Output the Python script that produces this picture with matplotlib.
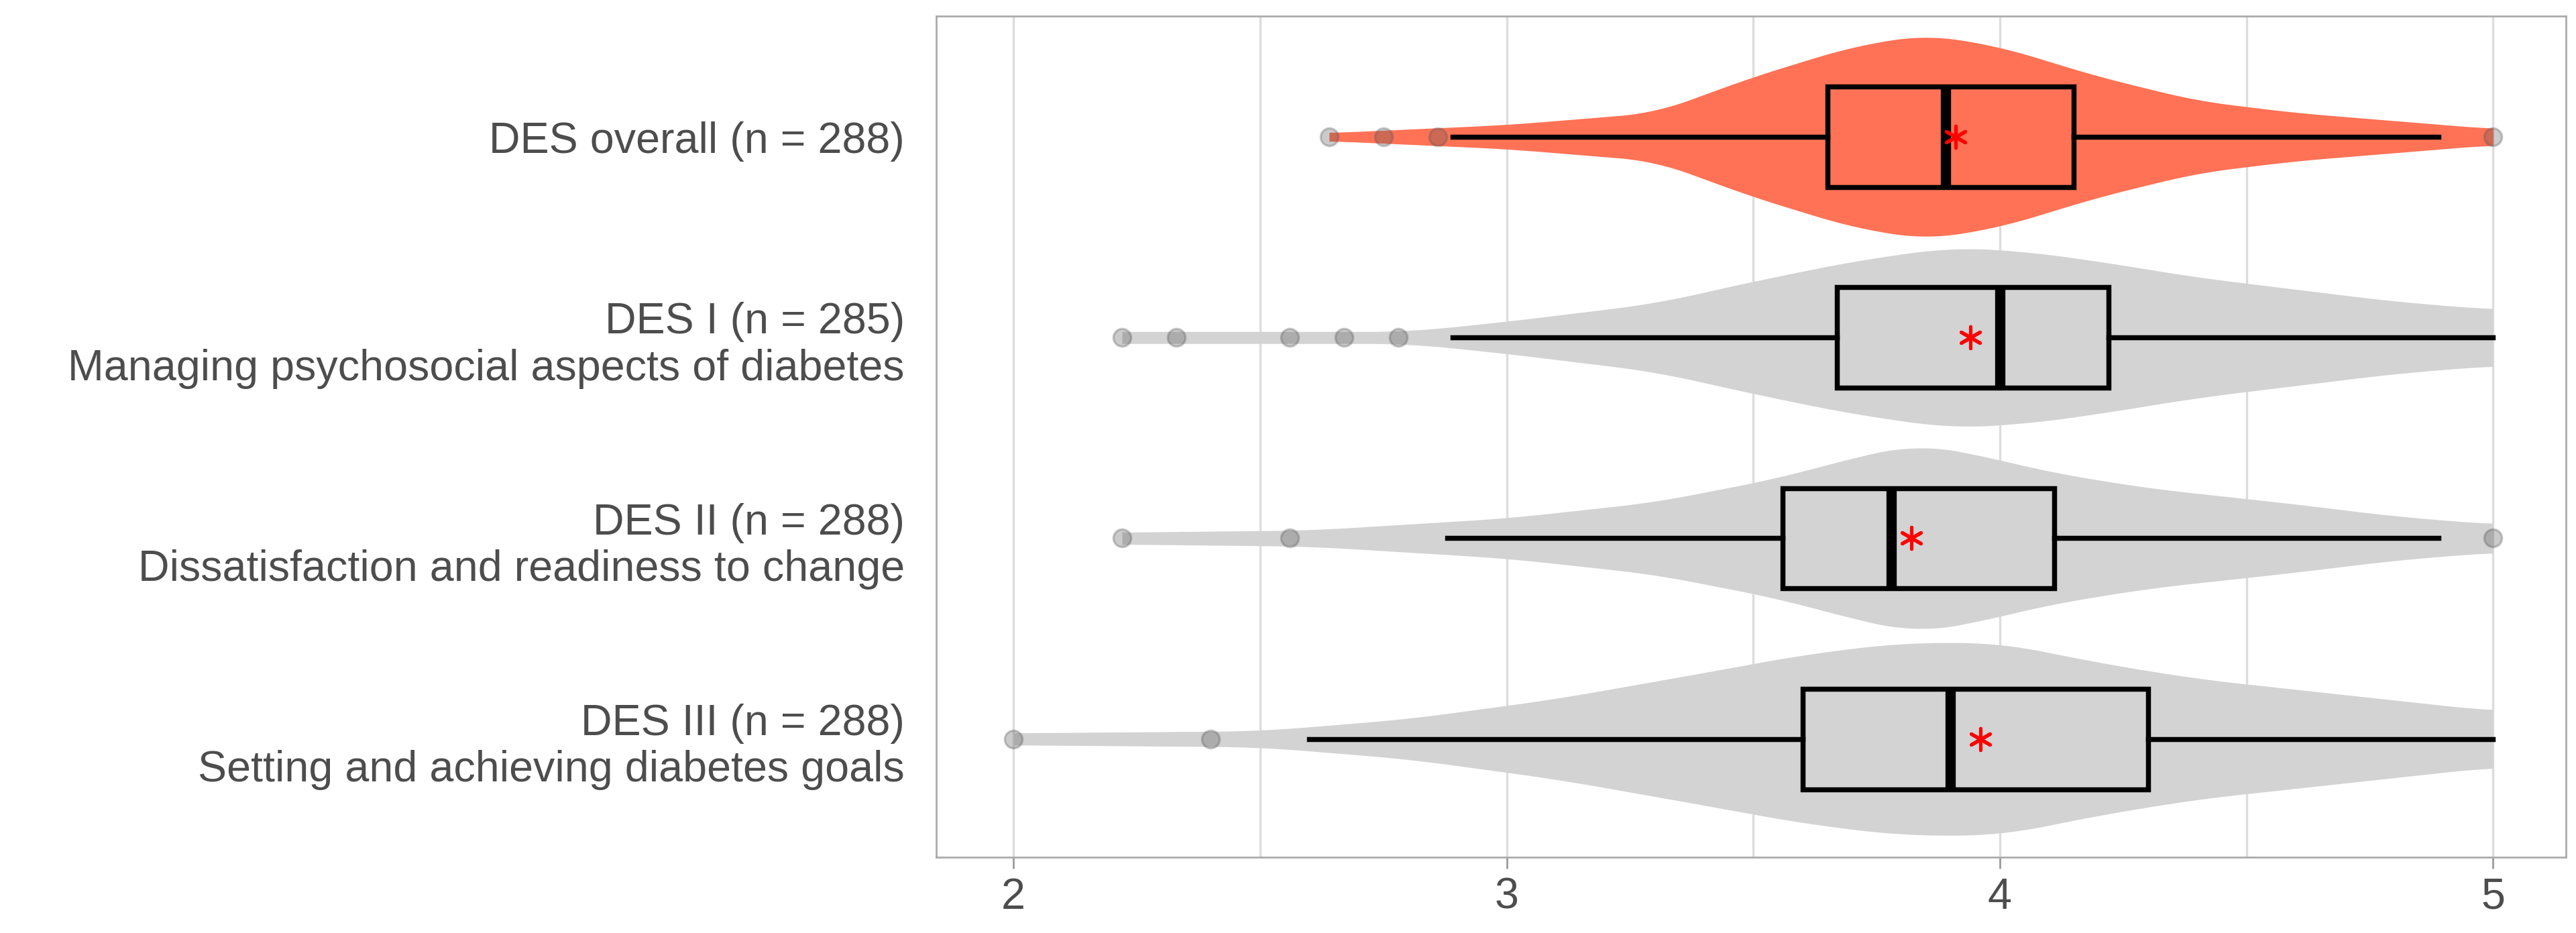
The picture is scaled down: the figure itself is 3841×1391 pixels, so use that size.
import numpy as np
import matplotlib.pyplot as plt

plt.rcParams['font.family'] = ['Liberation Sans', 'DejaVu Sans']

labels = ["DES overall (n = 288)",
          "DES I (n = 285)\nManaging psychosocial aspects of diabetes",
          "DES II (n = 288)\nDissatisfaction and readiness to change",
          "DES III (n = 288)\nSetting and achieving diabetes goals"]
colors = ["#FF7256", "#D3D3D3", "#D3D3D3", "#D3D3D3"]

# box stats: whisker low, q1, median, q3, whisker high
whislo = [2.89, 2.89, 2.88, 2.60]
q1 = [3.65, 3.67, 3.56, 3.60]
med = [3.89, 4.00, 3.78, 3.90]
q3 = [4.15, 4.22, 4.11, 4.30]
whishi = [4.89, 5.00, 4.89, 5.00]
means = [3.91, 3.94, 3.82, 3.96]
outliers = [[2.64, 2.75, 2.86, 5.0],
            [2.22, 2.33, 2.56, 2.67, 2.78],
            [2.22, 2.56, 5.0],
            [2.0, 2.4]]

# violin half widths (estimated profile)
vx = [[2.64, 3.0, 3.3, 3.5, 3.7, 3.85, 4.0, 4.2, 4.4, 4.6, 4.8, 5.0],
      [2.22, 2.8, 3.0, 3.3, 3.5, 3.7, 3.9, 4.05, 4.2, 4.4, 4.6, 4.8, 5.0],
      [2.22, 2.6, 3.0, 3.3, 3.55, 3.7, 3.83, 3.95, 4.1, 4.3, 4.6, 4.8, 5.0],
      [2.0, 2.5, 2.8, 3.1, 3.4, 3.6, 3.8, 4.0, 4.2, 4.4, 4.7, 5.0]]
vw = [[0.02, 0.06, 0.12, 0.30, 0.45, 0.51, 0.45, 0.30, 0.18, 0.12, 0.08, 0.04],
      [0.03, 0.03, 0.08, 0.17, 0.28, 0.38, 0.45, 0.43, 0.38, 0.30, 0.24, 0.18, 0.14],
      [0.03, 0.04, 0.10, 0.18, 0.30, 0.40, 0.47, 0.42, 0.33, 0.25, 0.17, 0.11, 0.07],
      [0.03, 0.04, 0.10, 0.20, 0.33, 0.42, 0.48, 0.48, 0.38, 0.30, 0.22, 0.14]]

fig = plt.figure(figsize=(15.68, 5.68), dpi=245)
ax = fig.add_axes([0.3635, 0.081, 0.6325, 0.901])
ypos = [4, 3, 2, 1]
for i, y in enumerate(ypos):
    xs = np.linspace(vx[i][0], vx[i][-1], 400)
    w = np.interp(xs, vx[i], vw[i])
    # light smoothing of the outline
    k = np.ones(25) / 25
    w = np.convolve(np.pad(w, 12, mode="edge"), k, mode="valid")
    ax.fill_between(xs, y - w, y + w, color=colors[i], lw=0, zorder=2)
    bxp = dict(whislo=whislo[i], q1=q1[i], med=med[i], q3=q3[i], whishi=whishi[i], fliers=[])
    ax.bxp([bxp], positions=[y], vert=False, widths=0.5, showcaps=False, patch_artist=True,
           boxprops=dict(facecolor=colors[i], edgecolor="black", lw=2.2),
           whiskerprops=dict(color="black", lw=2.2),
           medianprops=dict(color="black", lw=4.5), zorder=3)
    ax.scatter(outliers[i], [y] * len(outliers[i]), s=60, color="#555555", alpha=0.3, zorder=4)
    ax.scatter([means[i]], [y], marker=(6, 2, 0), s=90, color="red", lw=1.5, zorder=5)

ax.set_xlim(1.844, 5.148)
ax.set_ylim(0.41, 4.6)
ax.set_xticks([2, 3, 4, 5])
ax.set_xticks([2.5, 3.5, 4.5], minor=True)
ax.grid(axis="x", which="both", color="#DDDDDD", lw=1, zorder=0)
ax.set_axisbelow(True)
ax.set_yticks(ypos)
ax.set_yticklabels(labels, ha="right", multialignment="right")
ax.tick_params(axis="y", length=0, labelsize=19, labelcolor="#4D4D4D", pad=14)
ax.tick_params(axis="x", which="major", labelsize=19, labelcolor="#4D4D4D", color="#999999", length=5)
ax.tick_params(axis="x", which="minor", length=0)
for s in ax.spines.values():
    s.set_color("#AAAAAA")
fig.savefig("out.png")
